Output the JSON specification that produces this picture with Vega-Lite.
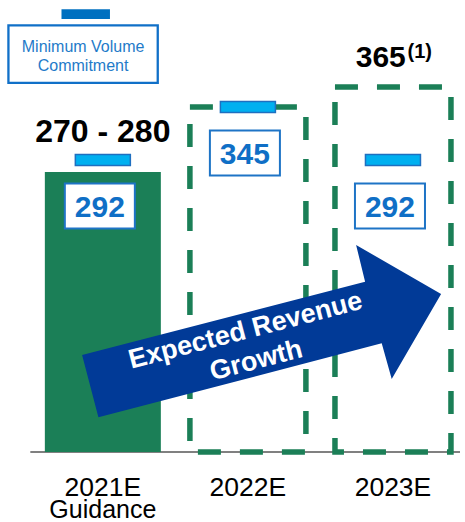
{
  "$schema": "https://vega.github.io/schema/vega-lite/v6.json",
  "width": 465,
  "height": 452,
  "autosize": "none",
  "padding": {"left": 0, "top": 0, "right": 0, "bottom": 70},
  "background": "white",
  "config": {"view": {"stroke": null}, "font": "Liberation Sans"},
  "datasets": {
    "revenue": [
      {"year": 2021, "period": "2021E", "subtitle": "Guidance", "status": "guidance", "revenue": 280, "mvc": 292, "top_label": "270 - 280"},
      {"year": 2022, "period": "2022E", "status": "projected", "revenue": 345, "mvc": 345},
      {"year": 2023, "period": "2023E", "status": "projected", "revenue": 365, "mvc": 292, "top_label": "365", "footnote": "(1)"}
    ],
    "arrow": [{"line": 1, "text": "Expected Revenue"}, {"line": 2, "text": "Growth"}],
    "legend": [{"text": "Minimum Volume\nCommitment"}]
  },
  "layer": [
    {
      "data": {"values": [{}]},
      "mark": {"type": "rule", "color": "#808080", "strokeWidth": 2},
      "encoding": {
        "x": {"datum": 2020.5, "type": "quantitative", "scale": {"domain": [2020.3255, 2023.4621], "nice": false, "zero": false}, "axis": null},
        "x2": {"datum": 2023.4621},
        "y": {"datum": 0, "type": "quantitative", "scale": {"domain": [0, 452], "nice": false}, "axis": null}
      }
    },
    {
      "data": {"name": "revenue"},
      "transform": [{"filter": "datum.status == 'guidance'"}],
      "mark": {"type": "bar", "width": 116, "color": "#1B7F57"},
      "encoding": {
        "x": {"field": "year", "type": "quantitative", "scale": {"domain": [2020.3255, 2023.4621], "nice": false, "zero": false}, "axis": null},
        "y": {"field": "revenue", "type": "quantitative", "scale": {"domain": [0, 452], "nice": false}, "axis": null}
      }
    },
    {
      "data": {"name": "revenue"},
      "transform": [{"filter": "datum.status == 'projected'"}],
      "mark": {"type": "bar", "width": 116, "filled": false, "color": "#1B7F57", "strokeWidth": 5.5, "strokeDash": [23, 19], "opacity": 1},
      "encoding": {
        "x": {"field": "year", "type": "quantitative", "scale": {"domain": [2020.3255, 2023.4621], "nice": false, "zero": false}, "axis": null},
        "y": {"field": "revenue", "type": "quantitative", "scale": {"domain": [0, 452], "nice": false}, "axis": null}
      }
    },
    {
      "data": {"name": "revenue"},
      "mark": {"type": "text", "fontSize": 26.5, "color": "#000000", "align": "center", "baseline": "alphabetic"},
      "encoding": {
        "text": {"field": "period"},
        "x": {"field": "year", "type": "quantitative", "scale": {"domain": [2020.3255, 2023.4621], "nice": false, "zero": false}, "axis": null},
        "y": {"datum": -44.2, "type": "quantitative", "scale": {"domain": [0, 452], "nice": false}, "axis": null}
      }
    },
    {
      "data": {"name": "revenue"},
      "transform": [{"filter": "isValid(datum.subtitle)"}],
      "mark": {"type": "text", "fontSize": 25, "color": "#000000", "align": "center", "baseline": "alphabetic"},
      "encoding": {
        "text": {"field": "subtitle"},
        "x": {"field": "year", "type": "quantitative", "scale": {"domain": [2020.3255, 2023.4621], "nice": false, "zero": false}, "axis": null},
        "y": {"datum": -65.5, "type": "quantitative", "scale": {"domain": [0, 452], "nice": false}, "axis": null}
      }
    },
    {
      "data": {"values": [{}]},
      "mark": {"type": "point", "shape": "M-177.3,25L105.7,-48.3L96.7,-85L181.7,-36L132.3,49L122.3,13.3L-161,87.3Z", "size": 4, "filled": true, "color": "#013A97", "opacity": 1, "strokeWidth": 0},
      "encoding": {
        "x": {"datum": 2022.0793, "type": "quantitative", "scale": {"domain": [2020.3255, 2023.4621], "nice": false, "zero": false}, "axis": null},
        "y": {"datum": 122, "type": "quantitative", "scale": {"domain": [0, 452], "nice": false}, "axis": null}
      }
    },
    {
      "data": {"name": "arrow"},
      "transform": [{"filter": "datum.line == 1"}],
      "mark": {"type": "text", "angle": 345.4, "align": "center", "baseline": "middle", "fontSize": 27, "fontWeight": "bold", "color": "#FFFFFF"},
      "encoding": {
        "text": {"field": "text"},
        "x": {"datum": 2021.9835, "type": "quantitative", "scale": {"domain": [2020.3255, 2023.4621], "nice": false, "zero": false}, "axis": null},
        "y": {"datum": 121.2, "type": "quantitative", "scale": {"domain": [0, 452], "nice": false}, "axis": null}
      }
    },
    {
      "data": {"name": "arrow"},
      "transform": [{"filter": "datum.line == 2"}],
      "mark": {"type": "text", "angle": 345.4, "align": "center", "baseline": "middle", "fontSize": 27, "fontWeight": "bold", "color": "#FFFFFF"},
      "encoding": {
        "text": {"field": "text"},
        "x": {"datum": 2022.057, "type": "quantitative", "scale": {"domain": [2020.3255, 2023.4621], "nice": false, "zero": false}, "axis": null},
        "y": {"datum": 91.2, "type": "quantitative", "scale": {"domain": [0, 452], "nice": false}, "axis": null}
      }
    },
    {
      "data": {"name": "revenue"},
      "mark": {"type": "point", "shape": "M-2.5,-0.5H2.5V0.5H-2.5Z", "size": 484, "filled": true, "fill": "#00B0F0", "stroke": "#1F6FC0", "strokeWidth": 1.5, "opacity": 1},
      "encoding": {
        "x": {"field": "year", "type": "quantitative", "scale": {"domain": [2020.3255, 2023.4621], "nice": false, "zero": false}, "axis": null},
        "y": {"field": "mvc", "type": "quantitative", "scale": {"domain": [0, 452], "nice": false}, "axis": null}
      }
    },
    {
      "data": {"name": "revenue"},
      "mark": {"type": "point", "shape": "M-1.556,-1H1.556V1H-1.556Z", "size": 2025, "filled": true, "fill": "#FFFFFF", "stroke": "#1E74C6", "strokeWidth": 2, "opacity": 1, "yOffset": 46, "xOffset": -3},
      "encoding": {
        "x": {"field": "year", "type": "quantitative", "scale": {"domain": [2020.3255, 2023.4621], "nice": false, "zero": false}, "axis": null},
        "y": {"field": "mvc", "type": "quantitative", "scale": {"domain": [0, 452], "nice": false}, "axis": null}
      }
    },
    {
      "data": {"name": "revenue"},
      "mark": {"type": "text", "fontSize": 30, "fontWeight": "bold", "color": "#0F6FC6", "align": "center", "baseline": "middle", "yOffset": 47.5, "xOffset": -3},
      "encoding": {
        "text": {"field": "mvc"},
        "x": {"field": "year", "type": "quantitative", "scale": {"domain": [2020.3255, 2023.4621], "nice": false, "zero": false}, "axis": null},
        "y": {"field": "mvc", "type": "quantitative", "scale": {"domain": [0, 452], "nice": false}, "axis": null}
      }
    },
    {
      "data": {"name": "revenue"},
      "transform": [{"filter": "datum.year == 2021"}],
      "mark": {"type": "text", "fontSize": 32, "fontWeight": "bold", "color": "#000000", "align": "center", "baseline": "alphabetic", "yOffset": -30},
      "encoding": {
        "text": {"field": "top_label"},
        "x": {"field": "year", "type": "quantitative", "scale": {"domain": [2020.3255, 2023.4621], "nice": false, "zero": false}, "axis": null},
        "y": {"field": "revenue", "type": "quantitative", "scale": {"domain": [0, 452], "nice": false}, "axis": null}
      }
    },
    {
      "data": {"name": "revenue"},
      "transform": [{"filter": "datum.year == 2023"}],
      "mark": {"type": "text", "fontSize": 30, "fontWeight": "bold", "color": "#000000", "align": "right", "baseline": "alphabetic", "yOffset": -20, "xOffset": 12.8},
      "encoding": {
        "text": {"field": "top_label"},
        "x": {"field": "year", "type": "quantitative", "scale": {"domain": [2020.3255, 2023.4621], "nice": false, "zero": false}, "axis": null},
        "y": {"field": "revenue", "type": "quantitative", "scale": {"domain": [0, 452], "nice": false}, "axis": null}
      }
    },
    {
      "data": {"name": "revenue"},
      "transform": [{"filter": "isValid(datum.footnote)"}],
      "mark": {"type": "text", "fontSize": 20, "fontWeight": "bold", "color": "#000000", "align": "left", "baseline": "alphabetic", "yOffset": -29.5, "xOffset": 14.5},
      "encoding": {
        "text": {"field": "footnote"},
        "x": {"field": "year", "type": "quantitative", "scale": {"domain": [2020.3255, 2023.4621], "nice": false, "zero": false}, "axis": null},
        "y": {"field": "revenue", "type": "quantitative", "scale": {"domain": [0, 452], "nice": false}, "axis": null}
      }
    },
    {
      "data": {"name": "legend"},
      "mark": {"type": "point", "shape": "M-2.597,-1H2.597V1H-2.597Z", "size": 3306, "filled": false, "color": "#1070C8", "strokeWidth": 2.3, "opacity": 1},
      "encoding": {
        "x": {"datum": 2020.8638, "type": "quantitative", "scale": {"domain": [2020.3255, 2023.4621], "nice": false, "zero": false}, "axis": null},
        "y": {"datum": 397.8, "type": "quantitative", "scale": {"domain": [0, 452], "nice": false}, "axis": null}
      }
    },
    {
      "data": {"name": "legend"},
      "mark": {"type": "point", "shape": "M-5,-1H5V1H-5Z", "size": 94, "filled": true, "color": "#0070C0", "strokeWidth": 0, "opacity": 1},
      "encoding": {
        "x": {"datum": 2020.882, "type": "quantitative", "scale": {"domain": [2020.3255, 2023.4621], "nice": false, "zero": false}, "axis": null},
        "y": {"datum": 437.8, "type": "quantitative", "scale": {"domain": [0, 452], "nice": false}, "axis": null}
      }
    },
    {
      "data": {"name": "legend"},
      "mark": {"type": "text", "lineBreak": "\n", "fontSize": 16, "color": "#1F7BC9", "align": "center", "baseline": "alphabetic", "lineHeight": 18.7},
      "encoding": {
        "text": {"field": "text"},
        "x": {"datum": 2020.8638, "type": "quantitative", "scale": {"domain": [2020.3255, 2023.4621], "nice": false, "zero": false}, "axis": null},
        "y": {"datum": 399.7, "type": "quantitative", "scale": {"domain": [0, 452], "nice": false}, "axis": null}
      }
    }
  ]
}
